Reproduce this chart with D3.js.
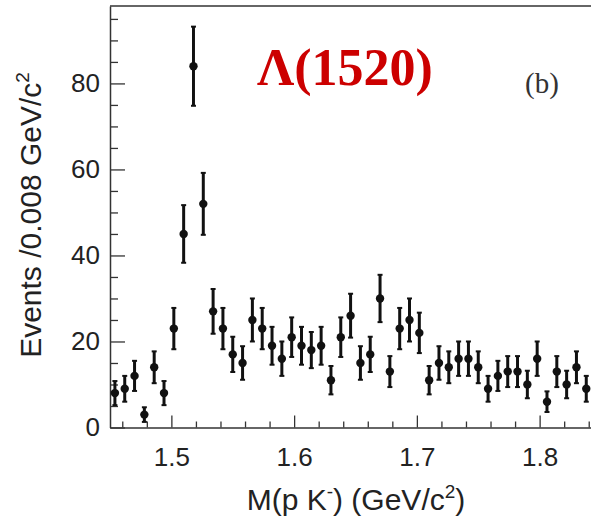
<!DOCTYPE html>
<html>
<head>
<meta charset="utf-8">
<script src="https://cdn.jsdelivr.net/npm/d3@7"></script>
<style>
  body { margin: 0; background: #fff; }
  svg { display: block; }
</style>
</head>
<body>
<div id="chart"></div>
<script>
// bin centres, M(pK-) in GeV/c^2 (bin width 0.008)
const masses = [1.454,1.462,1.470,1.478,1.486,1.494,1.502,1.510,1.518,1.526,
                1.534,1.542,1.550,1.558,1.566,1.574,1.582,1.590,1.598,1.606,
                1.614,1.622,1.630,1.638,1.646,1.654,1.662,1.670,1.678,1.686,
                1.694,1.702,1.710,1.718,1.726,1.734,1.742,1.750,1.758,1.766,
                1.774,1.782,1.790,1.798,1.806,1.814,1.822,1.830,1.838];
// events per bin
const events = [8,9,12,3,14,8,23,45,84,52,
                27,23,17,15,25,23,19,16,21,19,
                18,19,11,21,26,15,17,30,13,23,
                25,22,11,15,14,16,16,14,9,12,
                13,13,10,16,6,13,10,14,9];
const errors = [2.8,3.0,3.5,1.7,3.7,2.8,4.8,6.7,9.2,7.2,
                5.2,4.8,4.1,3.9,5.0,4.8,4.4,4.0,4.6,4.4,
                4.2,4.4,3.3,4.6,5.1,3.9,4.1,5.5,3.6,4.8,
                5.0,4.7,3.3,3.9,3.7,4.0,4.0,3.7,3.0,3.5,
                3.6,3.6,3.2,4.0,2.4,3.6,3.2,3.7,3.0];
const xTicks = [1.5, 1.6, 1.7, 1.8];
const xMinor = [1.46,1.48,1.52,1.54,1.56,1.58,1.62,1.64,1.66,1.68,1.72,1.74,1.76,1.78,1.82,1.84];
const yTicks = [0, 20, 40, 60, 80];
const yMinor = [5,10,15,25,30,35,45,50,55,65,70,75,85,90,95];

const width = 591, height = 520;
const plotLeft = 110, plotTop = 6, plotBottom = 427.5;

const svg = d3.select("#chart").append("svg")
    .attr("width", width).attr("height", height);

const x = d3.scaleLinear().domain([1.45, 1.85]).range([plotLeft, 601]);
const y = d3.scaleLinear().domain([0, 98]).range([plotBottom, plotTop]);

const axisColor = "#333";

// minor ticks
svg.append("g")
    .attr("transform", "translate(0," + plotBottom + ")")
    .call(d3.axisBottom(x).tickValues(xMinor).tickSize(-6).tickSizeOuter(0).tickFormat(""))
    .call(g => g.select(".domain").remove());
svg.append("g")
    .attr("transform", "translate(" + plotLeft + ",0)")
    .call(d3.axisLeft(y).tickValues(yMinor).tickSize(-8).tickSizeOuter(0).tickFormat(""))
    .call(g => g.select(".domain").remove());

// major ticks + labels
const gx = svg.append("g")
    .attr("transform", "translate(0," + plotBottom + ")")
    .call(d3.axisBottom(x).tickValues(xTicks).tickSize(-12).tickSizeOuter(0).tickPadding(20).tickFormat(d3.format(".1f")));
gx.selectAll("text")
    .attr("font-family", "Liberation Sans, Arial, sans-serif")
    .attr("font-size", 26).attr("fill", "#222");

const gy = svg.append("g")
    .attr("transform", "translate(" + plotLeft + ",0)")
    .call(d3.axisLeft(y).tickValues(yTicks).tickSize(-15).tickSizeOuter(0).tickPadding(10));
gy.selectAll("text")
    .attr("font-family", "Liberation Sans, Arial, sans-serif")
    .attr("font-size", 26).attr("fill", "#222");

svg.selectAll(".tick line").attr("stroke", axisColor).attr("stroke-width", 1.3);
svg.selectAll(".domain").attr("stroke", axisColor).attr("stroke-width", 1.5);

// top frame line
svg.append("line")
    .attr("x1", plotLeft).attr("x2", width)
    .attr("y1", plotTop).attr("y2", plotTop)
    .attr("stroke", axisColor).attr("stroke-width", 1.5);

// error bars
const pts = svg.append("g").selectAll("g")
    .data(masses.map((m, i) => ({m: m, n: events[i], e: errors[i]})))
    .join("g");

pts.append("line")
    .attr("x1", d => x(d.m)).attr("x2", d => x(d.m))
    .attr("y1", d => y(d.n - d.e)).attr("y2", d => y(d.n + d.e))
    .attr("stroke", "#111").attr("stroke-width", 3);
pts.append("line")
    .attr("x1", d => x(d.m) - 2.5).attr("x2", d => x(d.m) + 2.5)
    .attr("y1", d => y(d.n + d.e)).attr("y2", d => y(d.n + d.e))
    .attr("stroke", "#111").attr("stroke-width", 2);
pts.append("line")
    .attr("x1", d => x(d.m) - 2.5).attr("x2", d => x(d.m) + 2.5)
    .attr("y1", d => y(d.n - d.e)).attr("y2", d => y(d.n - d.e))
    .attr("stroke", "#111").attr("stroke-width", 2);
pts.append("circle")
    .attr("cx", d => x(d.m)).attr("cy", d => y(d.n))
    .attr("r", 4.2).attr("fill", "#111");

// axis titles
const xt = svg.append("text")
    .attr("x", 356).attr("y", 510)
    .attr("text-anchor", "middle")
    .attr("font-family", "Liberation Sans, Arial, sans-serif")
    .attr("font-size", 30).attr("fill", "#222");
xt.append("tspan").text("M(p K");
xt.append("tspan").attr("font-size", 19).attr("dy", -12).text("-");
xt.append("tspan").attr("dy", 12).text(") (GeV/c");
xt.append("tspan").attr("font-size", 19).attr("dy", -12).text("2");
xt.append("tspan").attr("dy", 12).text(")");

const yt = svg.append("text")
    .attr("transform", "translate(41,215) rotate(-90)")
    .attr("text-anchor", "middle")
    .attr("font-family", "Liberation Sans, Arial, sans-serif")
    .attr("font-size", 30).attr("fill", "#222");
yt.append("tspan").text("Events /0.008 GeV/c");
yt.append("tspan").attr("font-size", 19).attr("dy", -12).text("2");

// labels in the frame
svg.append("text")
    .attr("x", 257).attr("y", 85)
    .attr("font-family", "Liberation Serif, Times New Roman, serif")
    .attr("font-weight", "bold")
    .attr("font-size", 52).attr("fill", "#cc0000")
    .text("Λ(1520)");

svg.append("text")
    .attr("x", 525).attr("y", 93)
    .attr("font-family", "Liberation Serif, Times New Roman, serif")
    .attr("font-size", 29).attr("fill", "#333")
    .text("(b)");
</script>
</body>
</html>
